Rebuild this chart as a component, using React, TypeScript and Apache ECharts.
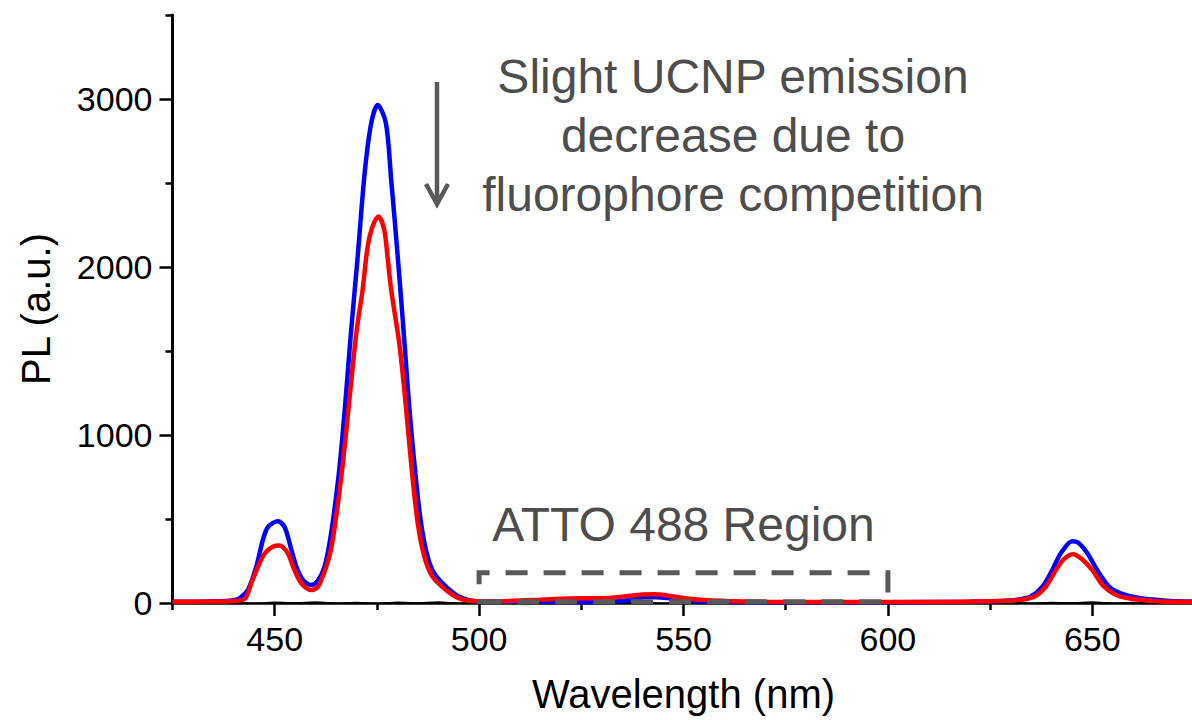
import React, { useEffect, useRef } from "react";
import * as echarts from "echarts";

// ---- axis ticks / labels ----
const xLabelTicks = [450, 500, 550, 600, 650];
const xMinorTicks = [425, 475, 525, 575, 625, 675];
const yLabelTicks = [0, 1000, 2000, 3000];
const yMinorTicks = [500, 1500, 2500, 3500];

// ---- spectra: [wavelength (nm), PL (a.u.)] ----
const blueSpectrum: [number, number][] = [
  [425, 8], [430, 8], [435, 10], [438, 12], [440, 16], [441.5, 30], [443.5, 80],
  [445.5, 216], [447.1, 375], [448.4, 454], [450.8, 486], [452.4, 454], [454.1, 315],
  [455.3, 216], [456.9, 137], [458.9, 107], [460.5, 130], [462.2, 216], [463.8, 415],
  [465.7, 772], [467.2, 1168], [468.5, 1565], [470.3, 2061], [472.0, 2558], [473.6, 2855],
  [475.2, 2964], [477.2, 2857], [478.5, 2518], [480.1, 2061], [481.7, 1565], [482.9, 1168],
  [484.4, 772], [485.8, 474], [487.4, 276], [489.0, 177], [491.9, 97], [495.1, 38],
  [499.2, 10], [505, 8], [515, 6], [525, 5], [535, 12], [541, 35], [546, 30], [552, 12],
  [560, 6], [580, 5], [600, 5], [620, 8], [628, 12], [631.7, 20], [634.9, 38], [637.8, 97],
  [640.2, 196], [642.3, 296], [645.1, 368], [646.5, 360], [648.8, 296], [651.2, 196],
  [654.1, 97], [656.9, 58], [661.8, 28], [669, 12], [675, 8],
];

const redSpectrum: [number, number][] = [
  [425, 8], [430, 8], [435, 9], [440, 12], [442.7, 25], [444.3, 119], [445.9, 216],
  [447.6, 296], [449.5, 335], [451.2, 342], [453.2, 296], [454.5, 216], [456.5, 117],
  [458.9, 77], [460.5, 95], [461.4, 137], [462.6, 216], [463.6, 300], [464.6, 440],
  [466.4, 772], [468.1, 1168], [469.5, 1506], [470.3, 1667], [471.5, 1863], [472.4, 2061],
  [473.2, 2180], [474.4, 2270], [475.4, 2300], [476.8, 2220], [477.6, 2061], [478.5, 1863],
  [480.5, 1540], [482.1, 1168], [483.6, 772], [485.0, 474], [486.6, 276], [488.6, 157],
  [491.9, 77], [495.1, 28], [499.2, 10], [505, 10], [510, 15], [515, 20], [520, 25],
  [525, 28], [530, 28], [535, 38], [540, 50], [543, 52], [546, 45], [550, 30], [555, 18],
  [560, 12], [570, 8], [590, 6], [610, 6], [625, 10], [632, 18], [635.8, 38], [638.6, 97],
  [641.1, 196], [643, 260], [645.3, 290], [647.5, 260], [650.0, 196], [652.9, 97],
  [656.9, 38], [665, 12], [675, 6],
];

const blackSpectrum: [number, number][] = [
  [425, 2], [430, -3], [435, 4], [440, 0], [445, -4], [450, 3], [455, -2], [460, 5],
  [465, -3], [470, 1], [475, -4], [480, 3], [485, -1], [490, 4], [495, -3], [500, 2],
  [505, -2], [510, 3], [515, -4], [520, 1], [525, -3], [530, 4], [535, -2], [540, 3],
  [545, -4], [550, 2], [555, -1], [560, 3], [565, -3], [570, 2], [575, -2], [580, 4],
  [585, -3], [590, 1], [595, -4], [600, 3], [605, -2], [610, 2], [615, -3], [620, 4],
  [625, -1], [630, 3], [635, -4], [640, 2], [645, -2], [650, 5], [655, -3], [660, 2],
  [665, -2], [670, 3], [675, -1],
];

// ---- annotations ----
const annotationLines = ["Slight UCNP emission", "decrease due to", "fluorophore competition"];
const regionLabel = "ATTO 488 Region";
const regionX = [500, 600];
const regionY = [8, 180];

const FONT = "Arial, 'Liberation Sans', Helvetica, sans-serif";
const GRAY = "#595959";
const TEXT_GRAY = "#4d4d4d";

export default function App() {
  const ref = useRef<HTMLDivElement>(null);

  useEffect(() => {
    if (!ref.current) return;
    const chart = echarts.init(ref.current, undefined, { renderer: "svg" });

    const tickStyle = { color: "#000", width: 2.5 };
    const plain = (v: number) => String(v);

    const option: any = {
      animation: false,
      backgroundColor: "#ffffff",
      grid: {
        left: 172.5,
        right: -2.5,
        top: 15,
        bottom: 117,
        containLabel: false,
        outerBoundsMode: "none",
      },
      xAxis: [
        {
          type: "value",
          min: 425,
          max: 675,
          position: "bottom",
          name: "Wavelength (nm)",
          nameLocation: "middle",
          nameGap: 71,
          nameTextStyle: { fontSize: 40, color: "#000", fontFamily: FONT },
          axisLine: { show: true, onZero: false, lineStyle: { color: "#000", width: 2.5 } },
          axisTick: { show: true, customValues: xLabelTicks, length: 13, inside: false, lineStyle: tickStyle },
          axisLabel: { show: true, customValues: xLabelTicks, formatter: plain, fontSize: 34, color: "#000", fontFamily: FONT, margin: 19 },
          splitLine: { show: false },
        },
        {
          type: "value",
          min: 425,
          max: 675,
          position: "bottom",
          axisLine: { show: false },
          axisTick: { show: true, customValues: xMinorTicks, length: 7, inside: false, lineStyle: tickStyle },
          axisLabel: { show: false },
          splitLine: { show: false },
        },
      ],
      yAxis: [
        {
          type: "value",
          min: 0,
          max: 3500,
          position: "left",
          name: "PL (a.u.)",
          nameLocation: "middle",
          nameGap: 117,
          nameTextStyle: { fontSize: 40, color: "#000", fontFamily: FONT },
          axisLine: { show: true, onZero: false, lineStyle: { color: "#000", width: 3 } },
          axisTick: { show: true, customValues: yLabelTicks, length: 13, inside: false, lineStyle: tickStyle },
          axisLabel: { show: true, customValues: yLabelTicks, formatter: plain, fontSize: 34, color: "#000", fontFamily: FONT, margin: 20 },
          splitLine: { show: false },
        },
        {
          type: "value",
          min: 0,
          max: 3500,
          position: "left",
          axisLine: { show: false },
          axisTick: { show: true, customValues: yMinorTicks, length: 7, inside: false, lineStyle: tickStyle },
          axisLabel: { show: false },
          splitLine: { show: false },
        },
      ],
      series: [
        {
          name: "baseline",
          type: "line",
          data: blackSpectrum,
          showSymbol: false,
          symbol: "none",
          lineStyle: { color: "#000", width: 2 },
          z: 2,
        },
        {
          name: "UCNP",
          type: "line",
          data: blueSpectrum,
          smooth: 0.3,
          showSymbol: false,
          symbol: "none",
          lineStyle: { color: "#0000ff", width: 4.5 },
          z: 3,
        },
        {
          name: "UCNP + ATTO 488",
          type: "line",
          data: redSpectrum,
          smooth: 0.3,
          showSymbol: false,
          symbol: "none",
          lineStyle: { color: "#ff0000", width: 4.5 },
          z: 4,
        },
        {
          name: "region",
          type: "line",
          data: [[regionX[0], regionY[0]]],
          symbol: "none",
          showSymbol: false,
          lineStyle: { width: 0 },
          z: 5,
          markArea: {
            silent: true,
            z: 20,
            itemStyle: {
              color: "rgba(0,0,0,0)",
              borderColor: GRAY,
              borderWidth: 5,
              borderType: [22, 16],
            },
            label: {
              show: true,
              position: "top",
              distance: 22,
              formatter: regionLabel,
              fontSize: 48,
              color: TEXT_GRAY,
              fontFamily: FONT,
            },
            data: [[{ xAxis: regionX[0], yAxis: regionY[0] }, { xAxis: regionX[1], yAxis: regionY[1] }]],
          },
        },
      ],
      graphic: [
        {
          type: "line",
          shape: { x1: 437, y1: 82, x2: 437, y2: 203 },
          style: { stroke: GRAY, lineWidth: 4.5 },
        },
        {
          type: "polyline",
          shape: { points: [[426, 184], [437, 204], [448, 184]] },
          style: { stroke: GRAY, lineWidth: 4.5, fill: null },
        },
        ...annotationLines.map((t, i) => ({
          type: "text",
          x: 733,
          y: 76 + i * 59,
          style: {
            text: t,
            fontSize: 48,
            fontFamily: FONT,
            fill: TEXT_GRAY,
            align: "center",
            verticalAlign: "middle",
          },
        })),
      ],
    };

    chart.setOption(option);
    return () => chart.dispose();
  }, []);

  return (
    <div
      ref={ref}
      style={{ position: "fixed", left: 0, top: 0, width: 1192, height: 720, background: "#fff" }}
    />
  );
}
